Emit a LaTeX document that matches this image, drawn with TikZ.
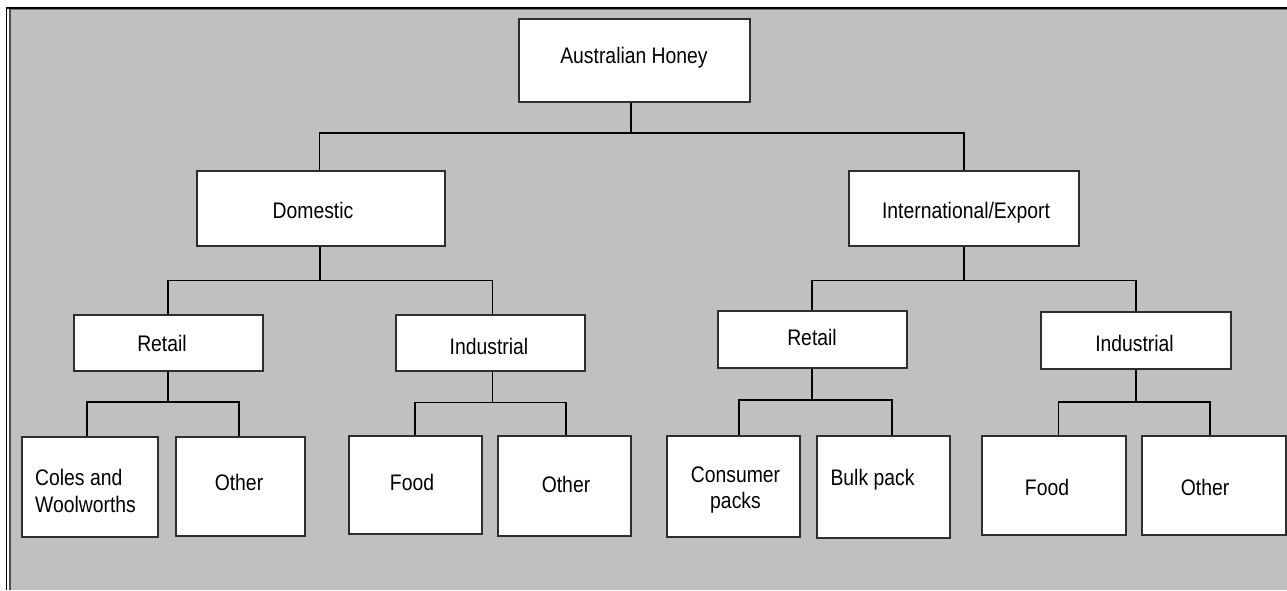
\documentclass[tikz,border=0pt]{standalone}
\usepackage{fontspec}
\setmainfont[FakeStretch=0.86]{Liberation Sans}
\definecolor{panel}{HTML}{C0C0C0}
\definecolor{edge}{HTML}{2E2E2E}
\begin{document}
\begin{tikzpicture}[x=1pt,y=-1pt,
  box/.style={draw=edge, line width=1.6pt, fill=white, inner sep=0pt},
  conn/.style={draw=black, line width=1.4pt},
  lbl/.style={inner sep=0pt, anchor=base, font=\fontsize{22.5}{26.5}\selectfont},
  lbltwo/.style={inner sep=0pt, font=\fontsize{22.5}{26.5}\selectfont},
]
\useasboundingbox (0,0) rectangle (1287,590);

% frame and grey panel
\fill[white] (0,0) rectangle (1287,590);
\fill[panel] (10,10) rectangle (1287,590);
\draw[black, line width=2.4pt] (5.7,7.9) -- (1287,7.9);
\draw[black!55, line width=1pt] (10,9.6) -- (1287,9.6);
\draw[black, line width=1.2pt] (6.4,6.7) -- (6.4,590);
\draw[black!70, line width=1.1pt] (10,9.2) -- (10,590);

% level 0
\node[box, minimum width=231pt, minimum height=83pt] (ah) at (634.5,60.5) {};
% level 1
\node[box, minimum width=248pt, minimum height=75pt] (dom) at (321,208.5) {};
\node[box, minimum width=230pt, minimum height=75pt] (intl) at (964,208.5) {};
% level 2
\node[box, minimum width=189pt, minimum height=56pt] (dret) at (168.5,343) {};
\node[box, minimum width=189pt, minimum height=56pt] (dind) at (490.5,343) {};
\node[box, minimum width=189pt, minimum height=57pt] (iret) at (812.5,339.5) {};
\node[box, minimum width=190pt, minimum height=57pt] (iind) at (1136,340.7) {};
% level 3
\node[box, minimum width=136pt, minimum height=100pt] (coles) at (90,487) {};
\node[box, minimum width=129pt, minimum height=99pt] (dother) at (240.5,486.5) {};
\node[box, minimum width=133pt, minimum height=98pt] (dfood) at (415.5,485) {};
\node[box, minimum width=133pt, minimum height=100pt] (dindother) at (564.5,486) {};
\node[box, minimum width=133pt, minimum height=101pt] (cons) at (733.5,486.5) {};
\node[box, minimum width=133pt, minimum height=102pt] (bulk) at (883.5,487) {};
\node[box, minimum width=144pt, minimum height=99pt] (ifood) at (1054,485.5) {};
\node[box, minimum width=144pt, minimum height=99pt] (iother) at (1214,485.5) {};

% labels
\node[lbl] (ahT) at (634,63.3) {Australian Honey};
\node[lbl] (domT) at (313,218.5) {Domestic};
\node[lbl] (intlT) at (966,218.5) {International/Export};
\node[lbl] (dretT) at (162,351.7) {Retail};
\node[lbl] (dindT) at (489,354.7) {Industrial};
\node[lbl] (iretT) at (812,345.3) {Retail};
\node[lbl] (iindT) at (1134.5,351) {Industrial};
\node[lbltwo, anchor=north west, align=left] (colesT) at (35,469.3) {Coles and\\Woolworths};
\node[lbl] (dotherT) at (239,490) {Other};
\node[lbl] (dfoodT) at (412,490) {Food};
\node[lbl] (dindotherT) at (566,492) {Other};
\node[lbltwo, anchor=north, align=center] (consT) at (735.5,466.5) {Consumer\\packs};
\node[lbl] (bulkT) at (872.5,485.3) {Bulk pack};
\node[lbl] (ifoodT) at (1047,495) {Food};
\node[lbl] (iotherT) at (1205,495) {Other};

% junction points of the tree
\coordinate (jTop) at (631,133);
\coordinate (jDom) at (320,280.6);
\coordinate (jInt) at (964,280.7);
\coordinate (jDret) at (168,402);
\coordinate (jDind) at (492.5,402.7);
\coordinate (jIret) at (812,400);
\coordinate (jIind) at (1136,402);

% connectors
\draw[conn] (ah.south -| jTop) -- (jTop);
\draw[conn] ([xshift=-1.5pt]dom.north) |- (jTop) -| (intl.north);

\draw[conn] (dom.south -| jDom) -- (jDom);
\draw[conn] (dret.north -| jDret) |- (jDom) -| ([xshift=2pt]dind.north);

\draw[conn] (intl.south -| jInt) -- (jInt);
\draw[conn] (iret.north -| jIret) |- (jInt) -| (iind.north);

\draw[conn] (dret.south -| jDret) -- (jDret);
\draw[conn] ([xshift=-3pt]coles.north) |- (jDret) -| ([xshift=-1.5pt]dother.north);

\draw[conn] (dind.south -| jDind) -- (jDind);
\draw[conn] ([xshift=-0.5pt]dfood.north) |- (jDind) -| ([xshift=1.5pt]dindother.north);

\draw[conn] (iret.south -| jIret) -- (jIret);
\draw[conn] ([xshift=5.5pt]cons.north) |- (jIret) -| ([xshift=8.5pt]bulk.north);

\draw[conn] (iind.south -| jIind) -- (jIind);
\draw[conn] ([xshift=4.5pt]ifood.north) |- (jIind) -| ([xshift=-4pt]iother.north);
\end{tikzpicture}
\end{document}
